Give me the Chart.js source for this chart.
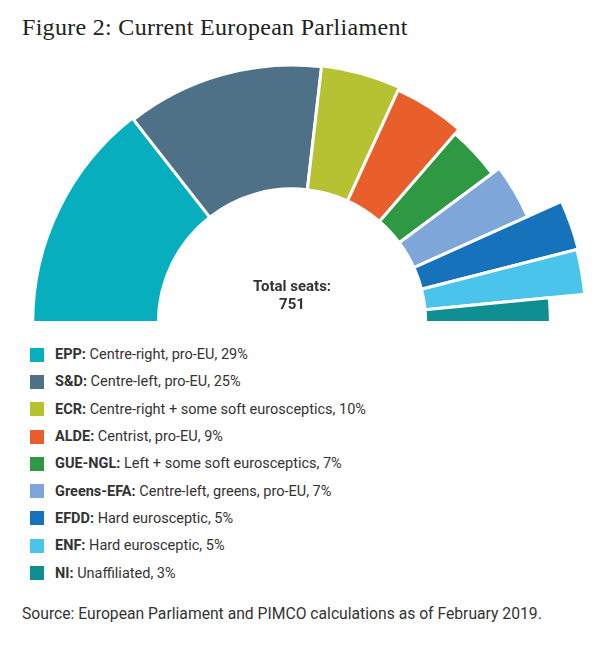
<!DOCTYPE html>
<html><head><meta charset="utf-8">
<script src="https://cdn.jsdelivr.net/npm/chart.js@4"></script>
<style>
body{margin:0;background:#fff;font-family:Roboto,"Liberation Sans",sans-serif;color:#333;}
#page{position:relative;width:612px;height:645px;}
#title{position:absolute;left:22px;top:14px;font-family:"Liberation Serif",serif;font-size:24px;color:#222;letter-spacing:0.3px;}
#wrap{position:absolute;left:-8px;top:24px;width:600px;height:300px;}
#total{position:absolute;left:232px;top:277px;width:120px;text-align:center;font-weight:bold;font-size:15px;line-height:18px;color:#333;}
#legend{position:absolute;left:30px;top:341px;font-size:14.5px;}
.row{height:27.3px;display:flex;align-items:center;}
.sw{width:14px;height:14px;margin-right:11px;}
#src{position:absolute;left:22px;top:604px;font-size:15.7px;color:#333;}
</style></head><body>
<div id="page">
<div id="title">Figure 2: Current European Parliament</div>
<div id="wrap"><canvas id="c"></canvas></div>
<div id="total">Total seats:<br>751</div>
<div id="legend"></div>
<div id="src">Source: European Parliament and PIMCO calculations as of February 2019.</div>
</div>
<script>
const groups = ['EPP','S&D','ECR','ALDE','GUE-NGL','Greens-EFA','EFDD','ENF','NI'];
const descriptions = ['Centre-right, pro-EU, 29%','Centre-left, pro-EU, 25%','Centre-right + some soft eurosceptics, 10%','Centrist, pro-EU, 9%','Left + some soft eurosceptics, 7%','Centre-left, greens, pro-EU, 7%','Hard eurosceptic, 5%','Hard eurosceptic, 5%','Unaffiliated, 3%'];
const seats = [217,186,75,68,52,52,41,37,23];
const colors = ['#07afbe','#4f7188','#b6c232','#e85f2b','#2f9842','#7fa6d8','#1673bb','#4bc4ec','#0f8f92'];
const radiusFactor = [0.873,0.867,0.87,0.86,0.84,0.87,0.995,0.99,0.87];

const lg = document.getElementById('legend');
groups.forEach((g,i)=>{
  lg.innerHTML += `<div class="row"><div class="sw" style="background:${colors[i]}"></div><span><b>${g}:</b> ${descriptions[i]}</span></div>`;
});

const radiusPlugin = {
  id:'radiusPlugin',
  afterDatasetsUpdate(chart){
    const meta = chart.getDatasetMeta(0);
    meta.data.forEach((arc,i)=>{ arc.outerRadius = arc.outerRadius*radiusFactor[i]; });
  }
};

new Chart(document.getElementById('c'),{
  type:'doughnut',
  data:{labels:groups,datasets:[{data:seats,backgroundColor:colors,borderColor:'#fff',borderWidth:3}]},
  options:{
    responsive:true,maintainAspectRatio:false,animation:false,
    rotation:-90,circumference:180,cutout:'45%',
    plugins:{legend:{display:false},tooltip:{enabled:false}}
  },
  plugins:[radiusPlugin]
});
</script>
</body></html>
